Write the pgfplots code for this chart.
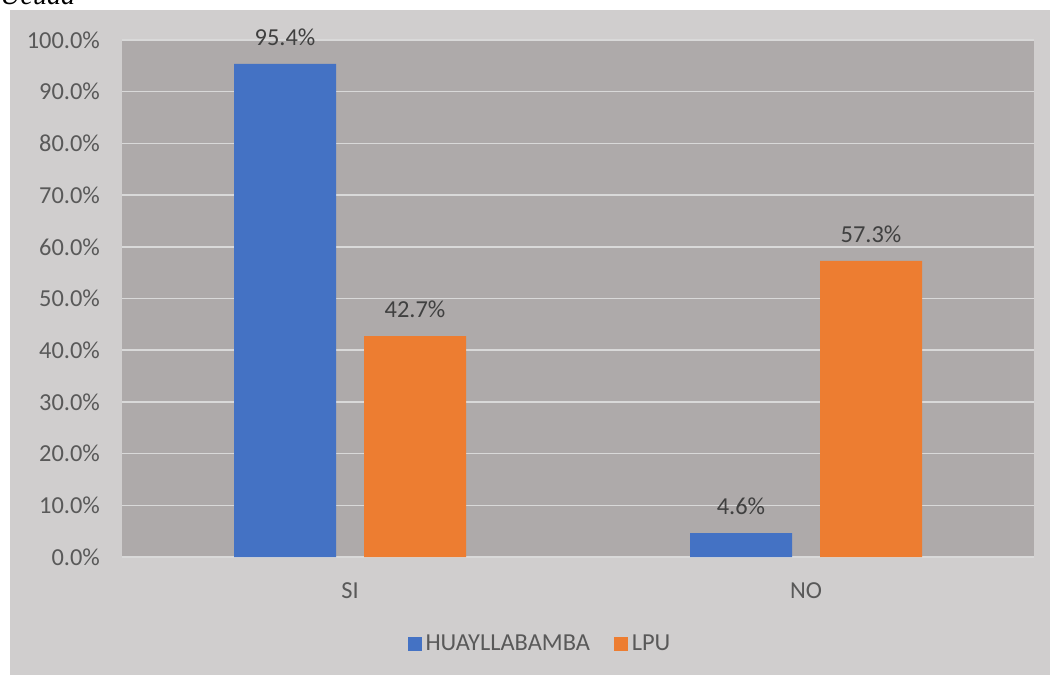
\documentclass[border=0pt]{standalone}
\usepackage{pgfplots}
\pgfplotsset{compat=1.18}
\usepackage{fontspec}
\setmainfont{Carlito}
\newfontfamily\capfont{Liberation Serif}[ItalicFont={Liberation Serif Italic}]
\definecolor{framebg}{HTML}{D0CECE}
\definecolor{plotbg}{HTML}{AEAAAA}
\definecolor{gridc}{HTML}{D9D9D9}
\definecolor{barblue}{HTML}{4472C4}
\definecolor{barorange}{HTML}{ED7D31}
\definecolor{tickc}{HTML}{595959}
\definecolor{labc}{HTML}{404040}
\begin{document}
\begin{tikzpicture}
\useasboundingbox (0,0) rectangle (525pt,337.5pt);
\fill[framebg] (5pt,0) rectangle (525pt,332.5pt);
\node[anchor=base west, text=black, inner sep=0pt] at (0pt,335pt) {\capfont\fontsize{14}{16}\selectfont\itshape Ucuaa};
\begin{axis}[
  at={(61pt,59pt)}, anchor=south west,
  width=456pt, height=258.5pt, scale only axis,
  axis background/.style={fill=plotbg},
  axis line style={draw=none},
  ymin=0, ymax=100,
  xmin=-0.5, xmax=1.5,
  xtick={0,1}, xticklabels={SI,NO},
  ytick={0,10,...,100},
  yticklabels={0.0\%,10.0\%,20.0\%,30.0\%,40.0\%,50.0\%,60.0\%,70.0\%,80.0\%,90.0\%,100.0\%},
  major tick length=0pt,
  ymajorgrids, grid style={gridc, line width=0.8pt},
  ybar=14pt, bar width=51pt,
  tick label style={font=\fontsize{12.2}{14.6}\selectfont, text=tickc},
  yticklabel style={xshift=-7.5pt},
  xticklabel style={yshift=-9.5pt},
  /pgf/number format/assume math mode=true,
  nodes near coords={\pgfmathprintnumber[fixed,fixed zerofill,precision=1]{\pgfplotspointmeta}\%},
  nodes near coords style={font=\fontsize{12.2}{14.6}\selectfont, text=labc, anchor=south, yshift=5.5pt},
  legend style={at={(axis description cs:0.4594,-0.1683)}, anchor=center, draw=none, fill=none,
    legend columns=2, font=\fontsize{12.2}{14.6}\selectfont, text=tickc,
    /tikz/every even column/.append style={column sep=10pt}},
  legend image code/.code={\fill[#1] (0pt,-3.5pt) rectangle (7pt,3.5pt);},
]
\addplot[fill=barblue, draw=none] coordinates {(0,95.4) (1,4.6)};
\addplot[fill=barorange, draw=none] coordinates {(0,42.7) (1,57.3)};
\legend{HUAYLLABAMBA, LPU}
\end{axis}
\end{tikzpicture}
\end{document}
